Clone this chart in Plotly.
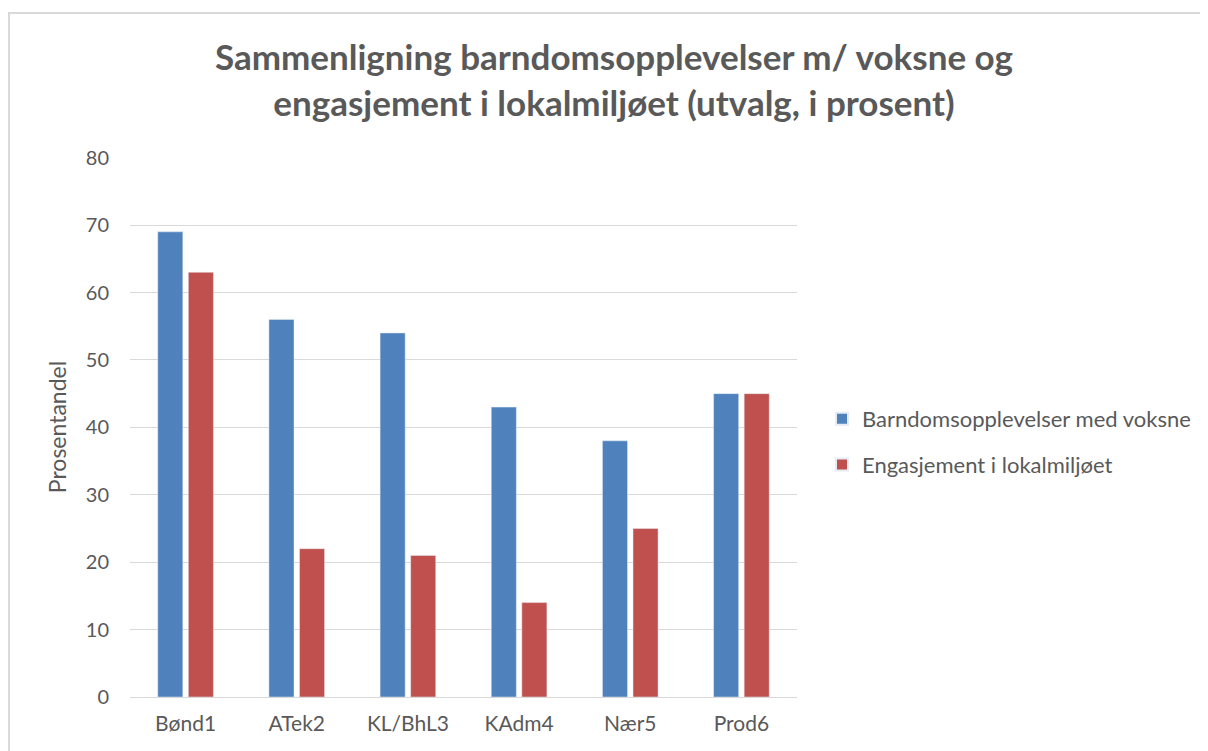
import plotly.graph_objects as go

categories = ["Bønd1", "ATek2", "KL/BhL3", "KAdm4", "Nær5", "Prod6"]
barndom = [69, 56, 54, 43, 38, 45]
engasjement = [63, 22, 21, 14, 25, 45]
series_names = ["Barndomsopplevelser med voksne", "Engasjement i lokalmiljøet"]
y_ticks = [0, 10, 20, 30, 40, 50, 60, 70, 80]

FONT = "Lato, 'Open Sans', sans-serif"
GRAY = "#595959"
OFF = 8  # page body margin

fig = go.Figure()
fig.add_trace(go.Bar(x=categories, y=barndom, name=series_names[0], marker_color="#4f81bd",
                     legendgroup="a"))
fig.add_trace(go.Bar(x=categories, y=engasjement, name=series_names[1], marker_color="#c0504d",
                     legendgroup="b"))

W, H = 1208, 751
L = 130 - OFF
T = 157 - OFF
R = W - (797 - OFF)
B = H - (697 - OFF)
pw, ph = W - L - R, H - T - B

def px_x(x):
    return (x - OFF - L) / pw

def px_y(y):
    return (H - B - (y - OFF)) / ph

fig.update_layout(
    width=W, height=H,
    margin=dict(l=L, r=R, t=T, b=B),
    paper_bgcolor="white", plot_bgcolor="white",
    barmode="group", bargap=0.45, bargroupgap=0.18,
    font=dict(family=FONT, color=GRAY, size=20),
    title=dict(
        text="<b>Sammenligning barndomsopplevelser m/ voksne og<br>engasjement i lokalmiljøet (utvalg, i prosent)</b>",
        x=(614 - OFF) / W, xanchor="center", y=1 - 62 / H, yanchor="middle",
        font=dict(family=FONT, size=35, color=GRAY),
    ),
    legend=dict(
        x=px_x(822), y=px_y(442), xanchor="left", yanchor="middle",
        font=dict(size=22, color=GRAY), tracegroupgap=14, traceorder="grouped",
        itemsizing="constant",
    ),
    yaxis=dict(
        range=[0, 80.1], tickvals=y_ticks, showgrid=True, gridcolor="#d9d9d9", gridwidth=1,
        zeroline=False, showline=False, ticks="", ticklabelstandoff=20,
        title=dict(text="Prosentandel", font=dict(size=23, color=GRAY), standoff=12),
        tickfont=dict(size=20, color=GRAY),
    ),
    xaxis=dict(
        showline=True, linecolor="#d9d9d9", linewidth=1, ticks="", ticklabelstandoff=8,
        tickfont=dict(size=21, color=GRAY),
    ),
    shapes=[dict(
        type="rect", xref="paper", yref="paper",
        x0=px_x(9), x1=px_x(1207), y0=px_y(790), y1=px_y(13),
        line=dict(color="#d9d9d9", width=2), fillcolor="rgba(0,0,0,0)", layer="below",
    )],
)

fig.write_html("out.html")
